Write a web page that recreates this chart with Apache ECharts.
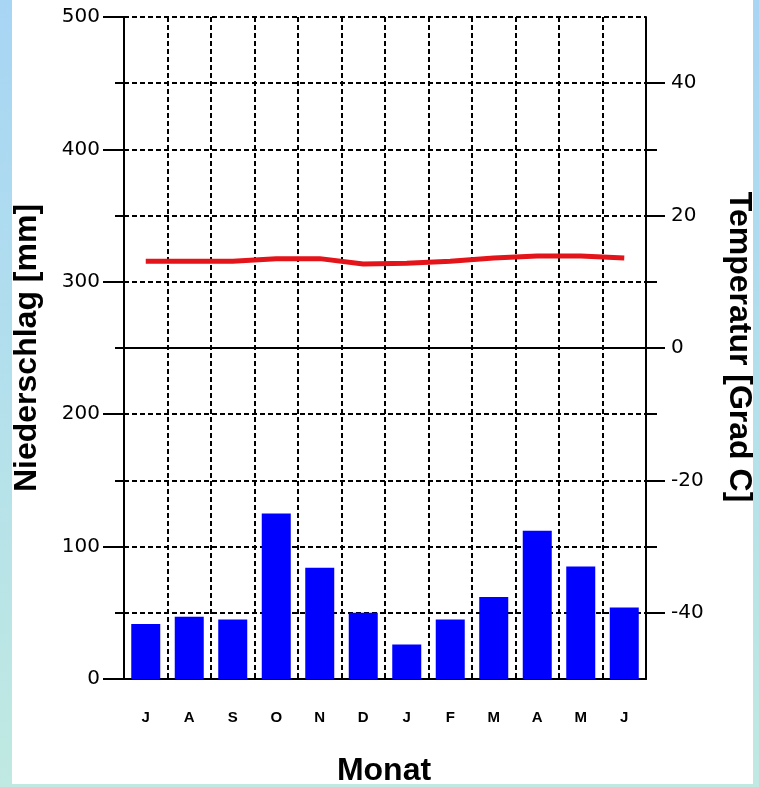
<!DOCTYPE html>
<html>
<head>
<meta charset="utf-8">
<script src="https://cdn.jsdelivr.net/npm/echarts@6/dist/echarts.min.js"></script>
<style>
html,body{margin:0;padding:0;}
body{width:759px;height:787px;position:relative;overflow:hidden;background:linear-gradient(to bottom,#a7d5f4 0%,#b3e0ec 50%,#bfe9e1 100%);}
#panel{position:absolute;left:12px;top:0;width:741px;height:784px;background:#fff;}
#chart{position:absolute;left:0;top:0;width:759px;height:787px;}
</style>
</head>
<body>
<div id="panel"></div>
<div id="chart"></div>
<script>
const months = ['J','A','S','O','N','D','J','F','M','A','M','J'];
const precipitation = [41.5, 47, 45, 125, 84, 50, 26, 45, 62, 112, 85, 54];
const temperature = [13.1, 13.1, 13.1, 13.5, 13.5, 12.7, 12.8, 13.1, 13.6, 13.9, 13.9, 13.6];
const tempLabelTicks = [-40, -20, 0, 20, 40];
const tempMinorTicks = [-30, -10, 10, 30];

const chart = echarts.init(document.getElementById('chart'), null, {renderer: 'canvas'});
const dashed = {color: '#000', width: 2, type: [5, 3]};
const tickFont = {color: '#000', fontFamily: 'DejaVu Sans', fontSize: 20};
const titleFont = {fill: '#000', font: 'bold 32px "Liberation Sans"'};

chart.setOption({
  animation: false,
  backgroundColor: 'transparent',
  grid: {left: 124, right: 113, top: 17, bottom: 108, containLabel: false},
  xAxis: {
    type: 'category',
    data: months,
    boundaryGap: true,
    axisLine: {lineStyle: {color: '#000', width: 2}},
    axisTick: {show: false},
    splitLine: {show: true, lineStyle: dashed},
    axisLabel: {color: '#000', fontFamily: 'Liberation Sans', fontWeight: 'bold', fontSize: 15, margin: 31}
  },
  yAxis: [
    {
      type: 'value', position: 'left', min: 0, max: 500, interval: 100,
      axisLine: {show: true, lineStyle: {color: '#000', width: 2}},
      axisTick: {show: true, length: 21, lineStyle: {color: '#000', width: 2}},
      minorTick: {show: true, splitNumber: 2, length: 9, lineStyle: {color: '#000', width: 2}},
      splitLine: {show: true, lineStyle: dashed},
      minorSplitLine: {show: true, lineStyle: dashed},
      axisLabel: Object.assign({margin: 24}, tickFont)
    },
    {
      type: 'value', position: 'right', min: -50, max: 50, interval: 10,
      axisLine: {show: true, lineStyle: {color: '#000', width: 2}},
      axisTick: {show: true, length: 19, customValues: tempLabelTicks, lineStyle: {color: '#000', width: 2}},
      splitLine: {show: false},
      axisLabel: Object.assign({margin: 25, customValues: tempLabelTicks}, tickFont)
    },
    {
      type: 'value', position: 'right', min: -50, max: 50, interval: 10,
      axisLine: {show: false},
      axisTick: {show: true, length: 11, customValues: tempMinorTicks, lineStyle: {color: '#000', width: 2}},
      splitLine: {show: false},
      axisLabel: {show: false}
    }
  ],
  series: [
    {
      type: 'bar', data: precipitation, yAxisIndex: 0, barWidth: 29,
      itemStyle: {color: '#0000ff'}
    },
    {
      type: 'line', data: temperature, yAxisIndex: 1, symbol: 'none',
      lineStyle: {color: '#e3141a', width: 5},
      markLine: {
        silent: true, symbol: 'none', label: {show: false},
        lineStyle: {color: '#000', width: 2, type: 'solid'},
        data: [{yAxis: 0}]
      }
    }
  ],
  graphic: [
    {type: 'text', x: 27, y: 348, rotation: Math.PI / 2,
     style: Object.assign({text: 'Niederschlag [mm]', textAlign: 'center', textVerticalAlign: 'middle'}, titleFont)},
    {type: 'text', x: 739, y: 347, rotation: -Math.PI / 2,
     style: Object.assign({text: 'Temperatur [Grad C]', textAlign: 'center', textVerticalAlign: 'middle'}, titleFont)},
    {type: 'text', x: 384, y: 771,
     style: Object.assign({text: 'Monat', textAlign: 'center', textVerticalAlign: 'middle'}, titleFont)}
  ]
});
</script>
</body>
</html>
